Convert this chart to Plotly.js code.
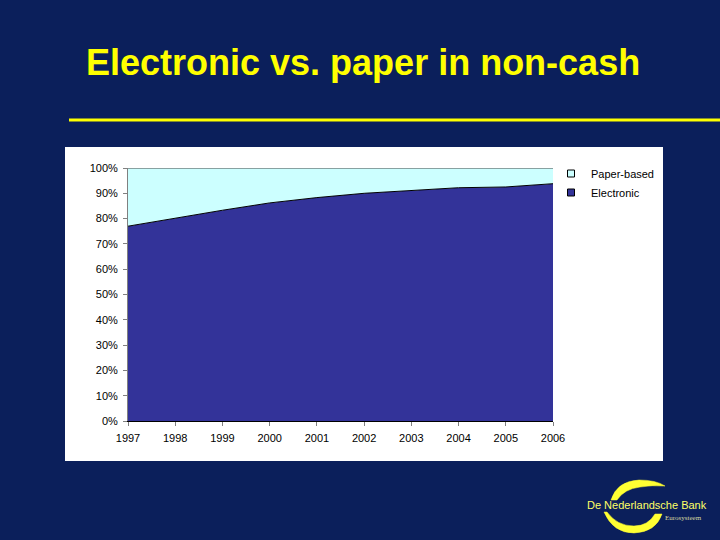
<!DOCTYPE html>
<html>
<head>
<meta charset="utf-8">
<script src="https://cdn.plot.ly/plotly-3.0.1.min.js"></script>
<style>
html,body{margin:0;padding:0;background:#0b1f5b;}
#chart{width:720px;height:540px;}
</style>
</head>
<body>
<div id="chart"></div>
<script>
var years = [1997, 1998, 1999, 2000, 2001, 2002, 2003, 2004, 2005, 2006];
var electronic = [0.770, 0.802, 0.833, 0.862, 0.883, 0.900, 0.912, 0.922, 0.925, 0.938];
var paperBased = [0.230, 0.198, 0.167, 0.138, 0.117, 0.100, 0.088, 0.078, 0.075, 0.062];
var seriesNames = ['Electronic', 'Paper-based'];
var seriesColors = ['#333399', '#ccffff'];
var titleText = 'Electronic vs. paper in non-cash';
var logoText = 'De Nederlandsche Bank';
var logoSub = 'Eurosysteem';

// plot-area pixel geometry (for decoration placement only)
var L = 128, R = 553, T = 168, B = 421;
function px(x){ return (x - L) / (R - L); }
function py(y){ return (B - y) / (B - T); }
function P(x, y){ return px(x) + ',' + py(y); }

var traces = [
  {
    x: years, y: electronic, name: seriesNames[0], type: 'scatter', mode: 'lines',
    stackgroup: 'one', fillcolor: seriesColors[0], showlegend: false,
    line: {color: '#000000', width: 1}
  },
  {
    x: years, y: paperBased, name: seriesNames[1], type: 'scatter', mode: 'lines',
    stackgroup: 'one', fillcolor: seriesColors[1], showlegend: false,
    line: {color: '#444444', width: 1}
  },
  // legend entries (square swatches, as in the original)
  {
    x: [null], y: [null], name: seriesNames[1], type: 'scatter', mode: 'markers',
    marker: {symbol: 'square', size: 7, color: seriesColors[1], line: {color: '#000000', width: 1}},
    showlegend: true
  },
  {
    x: [null], y: [null], name: seriesNames[0], type: 'scatter', mode: 'markers',
    marker: {symbol: 'square', size: 7, color: seriesColors[0], line: {color: '#000000', width: 1}},
    showlegend: true
  }
];

var layout = {
  width: 720, height: 540,
  paper_bgcolor: '#0b1f5b',
  plot_bgcolor: 'rgba(0,0,0,0)',
  margin: {l: L, r: 720 - R, t: T, b: 540 - B},
  showlegend: true,
  legend: {
    x: px(551), y: py(159), xanchor: 'left', yanchor: 'top',
    traceorder: 'normal',
    bgcolor: 'rgba(0,0,0,0)', tracegroupgap: 0, itemwidth: 30,
    font: {family: 'Liberation Sans, Arial, sans-serif', size: 11, color: '#000000'}
  },
  xaxis: {
    range: [1997, 2006], tickmode: 'array', tickvals: years, ticktext: years.map(String),
    showgrid: false, zeroline: false, showline: true, linecolor: '#000000', linewidth: 1,
    ticks: 'outside', ticklen: 4, tickcolor: '#808080', ticklabelstandoff: 3,
    tickfont: {family: 'Liberation Sans, Arial, sans-serif', size: 11, color: '#000000'}
  },
  yaxis: {
    range: [0, 1], dtick: 0.1, tickformat: '.0%',
    showgrid: false, zeroline: false, showline: true, linecolor: '#808080', linewidth: 1,
    ticks: 'outside', ticklen: 4, tickcolor: '#808080', ticklabelstandoff: 3,
    tickfont: {family: 'Liberation Sans, Arial, sans-serif', size: 11, color: '#000000'}
  },
  shapes: [
    {type: 'rect', xref: 'paper', yref: 'paper', layer: 'below',
     x0: px(65), x1: px(663), y0: py(461), y1: py(147),
     fillcolor: '#ffffff', line: {width: 0}},
    {type: 'line', xref: 'paper', yref: 'paper',
     x0: px(69), x1: px(720), y0: py(120), y1: py(120),
     line: {color: '#ffff00', width: 3}},
    {type: 'path', xref: 'paper', yref: 'paper',
     path: 'M' + P(611, 500) + ' Q' + P(617, 481) + ' ' + P(639, 480) +
           ' Q' + P(656, 480) + ' ' + P(665, 486) +
           ' Q' + P(652, 485) + ' ' + P(640, 487) +
           ' Q' + P(624, 489) + ' ' + P(617, 500) + ' Z',
     fillcolor: '#ffff33', line: {color: '#ffff33', width: 0.5}},
    {type: 'path', xref: 'paper', yref: 'paper',
     path: 'M' + P(604, 512) + ' Q' + P(613, 533) + ' ' + P(634, 533) +
           ' Q' + P(656, 532) + ' ' + P(662, 514) +
           ' L' + P(655, 514) +
           ' Q' + P(648, 526) + ' ' + P(634, 526) +
           ' Q' + P(617, 526) + ' ' + P(607, 512) + ' Z',
     fillcolor: '#ffff33', line: {color: '#ffff33', width: 0.5}}
  ],
  annotations: [
    {xref: 'paper', yref: 'paper', x: px(363), y: py(63), xanchor: 'center', yanchor: 'middle',
     text: '<b>' + titleText + '</b>', showarrow: false,
     font: {family: 'Liberation Sans, Arial, sans-serif', size: 36, color: '#ffff00'}},
    {xref: 'paper', yref: 'paper', x: px(647), y: py(505), xanchor: 'center', yanchor: 'middle',
     text: logoText, showarrow: false,
     font: {family: 'Liberation Sans, Arial, sans-serif', size: 11, color: '#ffff66'}},
    {xref: 'paper', yref: 'paper', x: px(683), y: py(518), xanchor: 'center', yanchor: 'middle',
     text: logoSub, showarrow: false,
     font: {family: 'Liberation Serif, Times New Roman, serif', size: 7, color: '#d8d8a0'}}
  ]
};

Plotly.newPlot('chart', traces, layout, {displayModeBar: false, staticPlot: true});
</script>
</body>
</html>
